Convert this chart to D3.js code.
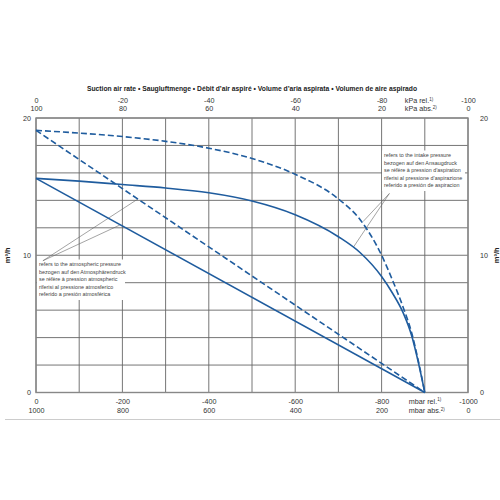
<!DOCTYPE html>
<html>
<head>
<meta charset="utf-8">
<script src="https://cdn.jsdelivr.net/npm/d3@7"></script>
<style>
	body { margin: 0; background: #fff; }
	text { font-family: "Liberation Sans Narrow", "Liberation Sans", Arial, sans-serif; fill: #333; }
</style>
</head>
<body>
<div id="chart-area"></div>
<script>
// flow curves, pressure in mbar rel., flow in m3/h
const curveP = [0, -100, -200, -300, -400, -500, -600, -700, -750, -800, -825, -850, -870, -885, -900];
const intakeSolid = [15.6, 15.4, 15.15, 14.9, 14.55, 13.95, 12.95, 11.35, 10.2, 8.45, 7.25, 5.8, 4.1, 2.2, 0];
const intakeDashed = [19.1, 18.9, 18.65, 18.3, 17.8, 17.05, 15.9, 14.1, 12.6, 10.0, 8.2, 6.2, 4.3, 2.3, 0];
const lineP = [0, -900];
const atmSolid = [15.6, 0];
const atmDashed = [19.1, 0];

// axis labels
const mbarRel = [0, -200, -400, -600, -800, -1000];
const mbarAbs = ['1000', '800', '600', '400', '200', '0'];
const kpaRel = [0, -20, -40, -60, -80, -100];
const kpaAbs = ['100', '80', '60', '40', '20', '0'];
const flowTicks = [0, 10, 20];

const title = 'Suction air rate  •  Saugluftmenge  •  Débit d\u2019air aspiré  •  Volume d\u2019aria aspirata  •  Volumen de aire aspirado';
const noteAtm = ['refers to the atmospheric pressure', 'bezogen auf den Atmosphärendruck', 'se réfère à pression atmospheric', 'riferisi al pressione atmosferico', 'referido a presión atmosférica'];
const noteIntake = ['refers to the intake pressure', 'bezogen auf den Ansaugdruck', 'se réfère à pression d\u2019aspiration', 'riferisi al pressione d\u2019aspirazione', 'referido a presión de aspiracion'];
// leader line ends [mbar, m3/h]
const atmAnchor = [-16, 9.6];
const atmTargets = [[-236, 14.1], [-194, 12.2]];
const intakeAnchor = [-818, 14.5];
const intakeTargets = [[-757, 12.45], [-735, 10.6]];

const blue = '#1f5c9e';

const svg = d3.select('#chart-area').append('svg')
	.attr('width', 500).attr('height', 500);

const x = d3.scaleLinear().domain([0, -1000]).range([36, 468]);
const xk = d3.scaleLinear().domain([0, -100]).range([36, 468]);
const y = d3.scaleLinear().domain([0, 20]).range([392.5, 118]);

// grid
svg.append('g').selectAll('line').data(x.ticks(10)).enter().append('line')
	.attr('x1', d => x(d)).attr('x2', d => x(d))
	.attr('y1', y(0)).attr('y2', y(20))
	.attr('stroke', '#666').attr('stroke-width', 0.9);
svg.append('g').selectAll('line').data(y.ticks(10)).enter().append('line')
	.attr('x1', x(0)).attr('x2', x(-1000))
	.attr('y1', d => y(d)).attr('y2', d => y(d))
	.attr('stroke', '#666').attr('stroke-width', 0.9);
svg.append('rect')
	.attr('x', x(0)).attr('y', y(20))
	.attr('width', x(-1000) - x(0)).attr('height', y(0) - y(20))
	.attr('fill', 'none').attr('stroke', '#888').attr('stroke-width', 1.4);

// bottom rule
svg.append('line').attr('x1', 5).attr('x2', 500).attr('y1', 419.5).attr('y2', 419.5)
	.attr('stroke', '#ccc').attr('stroke-width', 1);

// title
svg.append('text').attr('x', 252).attr('y', 90.5)
	.attr('text-anchor', 'middle').attr('font-size', 7.2).attr('font-weight', 'bold')
	.attr('textLength', 330).attr('lengthAdjust', 'spacingAndGlyphs')
	.style('fill', '#222')
	.text(title);

function styleAxis(g) {
	g.select('.domain').remove();
	g.selectAll('text').attr('font-size', 7.2).style('fill', '#333');
}

// bottom axes
svg.append('g').attr('transform', `translate(0, ${y(0)})`)
	.call(d3.axisBottom(x).tickValues(mbarRel).tickSize(0).tickPadding(6).tickFormat(d => d))
	.call(styleAxis);
svg.append('g').attr('transform', `translate(0, ${y(0)})`)
	.call(d3.axisBottom(x).tickValues(mbarRel).tickSize(0).tickPadding(15.5).tickFormat((d, i) => mbarAbs[i]))
	.call(styleAxis);

// top axes
svg.append('g').attr('transform', `translate(0, ${y(20)})`)
	.call(d3.axisTop(xk).tickValues(kpaRel).tickSize(0).tickPadding(15).tickFormat(d => d))
	.call(styleAxis);
svg.append('g').attr('transform', `translate(0, ${y(20)})`)
	.call(d3.axisTop(xk).tickValues(kpaRel).tickSize(0).tickPadding(7).tickFormat((d, i) => kpaAbs[i]))
	.call(styleAxis);

// y axes
svg.append('g').attr('transform', `translate(${x(0)}, 0)`)
	.call(d3.axisLeft(y).tickValues(flowTicks).tickSize(0).tickPadding(5))
	.call(styleAxis);
svg.append('g').attr('transform', `translate(${x(-1000)}, 0)`)
	.call(d3.axisRight(y).tickValues(flowTicks).tickSize(0).tickPadding(12))
	.call(styleAxis);

// unit labels
function unitLabel(px, py, main, sup) {
	const t = svg.append('text').attr('x', px).attr('y', py).attr('font-size', 7.2);
	t.append('tspan').text(main);
	t.append('tspan').attr('font-size', 4.5).attr('dy', -2.5).text(sup);
}
unitLabel(x(-900) - 20, y(20) - 15, 'kPa rel.', '1)');
unitLabel(x(-900) - 20, y(20) - 7, 'kPa abs.', '2)');
unitLabel(x(-900) - 16, y(0) + 11, 'mbar rel.', '1)');
unitLabel(x(-900) - 16, y(0) + 20.5, 'mbar abs.', '2)');

[x(0) - 26, 499].forEach(px => {
	svg.append('text')
		.attr('transform', `translate(${px}, ${y(10)}) rotate(-90)`)
		.attr('text-anchor', 'middle').attr('font-size', 7.5).attr('font-weight', 'bold')
		.style('fill', '#222')
		.text('m³/h');
});

// notes with white background
function note(lines, px, py, w) {
	svg.append('rect').attr('x', px - 2).attr('y', py - 6.5)
		.attr('width', w).attr('height', lines.length * 7.5 + 3)
		.attr('fill', '#fff');
	svg.append('g').selectAll('text').data(lines).enter().append('text')
		.attr('x', px).attr('y', (d, i) => py + i * 7.5)
		.attr('font-size', 5.4)
		.style('fill', '#444')
		.text(d => d);
}
note(noteAtm, 39, 266, 88);
note(noteIntake, 384, 157, 83);

// leader lines
function leaders(anchor, targets) {
	svg.append('g').selectAll('line').data(targets).enter().append('line')
		.attr('x1', x(anchor[0])).attr('y1', y(anchor[1]))
		.attr('x2', d => x(d[0])).attr('y2', d => y(d[1]))
		.attr('stroke', '#666').attr('stroke-width', 0.6);
}
leaders(atmAnchor, atmTargets);
leaders(intakeAnchor, intakeTargets);

// curves (pixel x grows as pressure falls, so monotoneX applies)
const line = d3.line().x(d => x(d[0])).y(d => y(d[1]));
const curved = d3.line().x(d => x(d[0])).y(d => y(d[1])).curve(d3.curveMonotoneX);

function drawSeries(gen, ps, qs, dashed) {
	svg.append('path')
		.datum(ps.map((p, i) => [p, qs[i]]))
		.attr('d', gen)
		.attr('fill', 'none')
		.attr('stroke', blue)
		.attr('stroke-width', 1.6)
		.attr('stroke-dasharray', dashed ? '6,3' : null);
}
drawSeries(line, lineP, atmSolid, false);
drawSeries(line, lineP, atmDashed, true);
drawSeries(curved, curveP, intakeSolid, false);
drawSeries(curved, curveP, intakeDashed, true);
</script>
</body>
</html>
